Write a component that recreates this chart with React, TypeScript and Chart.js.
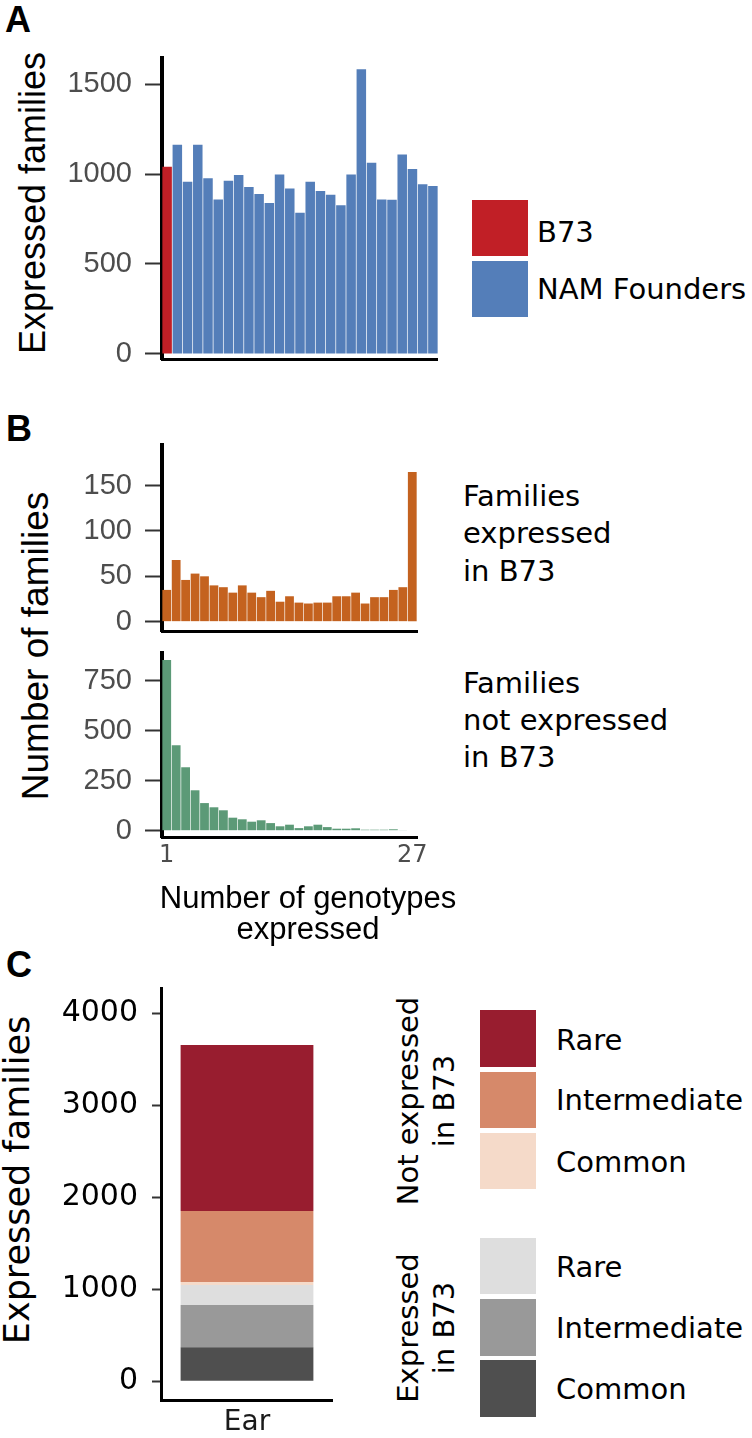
import React, { useEffect, useRef } from 'react';
import { Chart, registerables } from 'chart.js';

Chart.register(...registerables);

// ---------- Panel A data ----------
const genotypeLabels = ['B73', 'NAM 1', 'NAM 2', 'NAM 3', 'NAM 4', 'NAM 5', 'NAM 6', 'NAM 7', 'NAM 8', 'NAM 9', 'NAM 10', 'NAM 11', 'NAM 12', 'NAM 13', 'NAM 14', 'NAM 15', 'NAM 16', 'NAM 17', 'NAM 18', 'NAM 19', 'NAM 20', 'NAM 21', 'NAM 22', 'NAM 23', 'NAM 24', 'NAM 25', 'NAM 26'];
const b73Expressed = [1041];
const namFounderExpressed = [1163, 957, 1163, 976, 859, 963, 994, 928, 889, 839, 998, 919, 785, 957, 906, 885, 826, 998, 1583, 1063, 859, 857, 1109, 1028, 943, 933];
const yTicksA = [0, 500, 1000, 1500];

// ---------- Panel B data ----------
const genotypeCounts = ['1', '2', '3', '4', '5', '6', '7', '8', '9', '10', '11', '12', '13', '14', '15', '16', '17', '18', '19', '20', '21', '22', '23', '24', '25', '26', '27'];
const expressedInB73 = [35, 68, 46, 53, 50, 40, 38, 32, 40, 32, 27, 34, 22, 28, 21, 20, 21, 21, 28, 28, 32, 20, 27, 27, 35, 38, 165];
const notExpressedInB73 = [853, 427, 317, 202, 138, 117, 102, 65, 57, 45, 52, 38, 22, 30, 13, 22, 30, 18, 10, 10, 12, 5, 5, 5, 7, 2, 0];
const yTicksBTop = [0, 50, 100, 150];
const yTicksBBottom = [0, 250, 500, 750];
const xTickLabelsB = ['1', '27'];

// ---------- Panel C data ----------
const tissues = ['Ear'];
const expCommon = [370];
const expIntermediate = [459];
const expRare = [218];
const notExpCommon = [32];
const notExpIntermediate = [772];
const notExpRare = [1804];
const yTicksC = [0, 1000, 2000, 3000, 4000];

// ---------- colours ----------
const RED = '#c11f26';
const BLUE = '#547eb9';
const ORANGE = '#c4621f';
const GREEN = '#5c9a77';
const C_NOT_RARE = '#981d2f';
const C_NOT_INTER = '#d6896a';
const C_NOT_COMMON = '#f5dac9';
const C_EXP_RARE = '#dedede';
const C_EXP_INTER = '#999999';
const C_EXP_COMMON = '#4f4f4f';

const LIB = "'Liberation Sans', Arial, sans-serif";
const DJV = "'DejaVu Sans', sans-serif";

function yAxis(o: { min: number; max: number; ticks: number[]; plotLeft: number; tickLength: number; pad: number; family: string; size: number; color: string; border: number }) {
  return {
    type: 'linear',
    stacked: true,
    min: o.min,
    max: o.max,
    afterBuildTicks: (s: any) => {
      s.ticks = o.ticks.map((v) => ({ value: v }));
    },
    afterFit: (s: any) => {
      s.width = o.plotLeft;
      s.paddingTop = 0;
      s.paddingBottom = 0;
    },
    ticks: {
      autoSkip: false,
      padding: o.pad,
      color: o.color,
      font: { family: o.family, size: o.size },
      callback: (v: any) => String(v),
    },
    grid: { display: true, drawOnChartArea: false, drawTicks: true, tickLength: o.tickLength, tickWidth: 2, tickColor: '#333333' },
    border: { display: true, color: '#000000', width: o.border },
  };
}

function xAxis(o: { height: number; ticks?: any; border: number }) {
  return {
    type: 'category',
    stacked: true,
    offset: true,
    afterFit: (s: any) => {
      s.height = o.height;
      s.paddingLeft = 0;
      s.paddingRight = 0;
    },
    grid: { display: false, drawTicks: false },
    ticks: o.ticks || { display: false },
    border: { display: true, color: '#000000', width: o.border },
  };
}

function baseOptions(scales: any, bar: any, padRight = 0) {
  return {
    responsive: false,
    animation: false,
    events: [],
    layout: { padding: { left: 0, top: 0, bottom: 0, right: padRight }, autoPadding: false },
    plugins: { legend: { display: false }, tooltip: { enabled: false }, title: { display: false } },
    datasets: { bar },
    scales,
  };
}

const nullsFor = (n: number) => new Array(n).fill(null);

function configA() {
  return {
    type: 'bar',
    data: {
      labels: genotypeLabels,
      datasets: [
        { label: 'B73', data: [...b73Expressed, ...nullsFor(namFounderExpressed.length)], backgroundColor: RED },
        { label: 'NAM Founders', data: [...nullsFor(b73Expressed.length), ...namFounderExpressed], backgroundColor: BLUE },
      ],
    },
    options: baseOptions(
      {
        x: xAxis({ height: 27, border: 3 }),
        y: yAxis({ min: -28, max: 1656, ticks: yTicksA, plotLeft: 162, tickLength: 17, pad: 13, family: LIB, size: 29, color: '#4d4d4d', border: 4 }),
      },
      { barPercentage: 0.93, categoryPercentage: 1 }
    ),
  };
}

function configBTop() {
  return {
    type: 'bar',
    data: { labels: genotypeCounts, datasets: [{ label: 'Families expressed in B73', data: expressedInB73, backgroundColor: ORANGE }] },
    options: baseOptions(
      {
        x: xAxis({ height: 22, border: 3 }),
        y: yAxis({ min: -10.3, max: 197, ticks: yTicksBTop, plotLeft: 162, tickLength: 17, pad: 13, family: LIB, size: 29, color: '#4d4d4d', border: 4 }),
      },
      { barPercentage: 0.93, categoryPercentage: 1 },
      23
    ),
  };
}

function configBBottom() {
  return {
    type: 'bar',
    data: { labels: genotypeCounts, datasets: [{ label: 'Families not expressed in B73', data: notExpressedInB73, backgroundColor: GREEN }] },
    options: baseOptions(
      {
        x: xAxis({
          height: 54,
          border: 3,
          ticks: {
            display: true,
            autoSkip: false,
            maxRotation: 0,
            minRotation: 0,
            padding: 4,
            color: '#4d4d4d',
            font: { family: DJV, size: 24 },
            callback: (_v: any, i: number) => (xTickLabelsB.includes(genotypeCounts[i]) ? genotypeCounts[i] : ''),
          },
        }),
        y: yAxis({ min: -31.5, max: 898, ticks: yTicksBBottom, plotLeft: 162, tickLength: 17, pad: 13, family: LIB, size: 29, color: '#4d4d4d', border: 4 }),
      },
      { barPercentage: 0.93, categoryPercentage: 1 },
      23
    ),
  };
}

function configC() {
  return {
    type: 'bar',
    data: {
      labels: tissues,
      datasets: [
        { label: 'Expressed in B73 Common', data: expCommon, backgroundColor: C_EXP_COMMON },
        { label: 'Expressed in B73 Intermediate', data: expIntermediate, backgroundColor: C_EXP_INTER },
        { label: 'Expressed in B73 Rare', data: expRare, backgroundColor: C_EXP_RARE },
        { label: 'Not expressed in B73 Common', data: notExpCommon, backgroundColor: C_NOT_COMMON },
        { label: 'Not expressed in B73 Intermediate', data: notExpIntermediate, backgroundColor: C_NOT_INTER },
        { label: 'Not expressed in B73 Rare', data: notExpRare, backgroundColor: C_NOT_RARE },
      ],
    },
    options: baseOptions(
      {
        x: xAxis({
          height: 38,
          border: 3,
          ticks: { display: true, padding: 6, color: '#1a1a1a', font: { family: DJV, size: 28 } },
        }),
        y: yAxis({ min: -203, max: 4286, ticks: yTicksC, plotLeft: 161, tickLength: 9, pad: 14, family: DJV, size: 30, color: '#000000', border: 3 }),
      },
      { barPercentage: 0.772, categoryPercentage: 1 }
    ),
  };
}

function ChartBox({ top, width, height, make }: { top: number; width: number; height: number; make: () => any }) {
  const ref = useRef<HTMLCanvasElement | null>(null);
  useEffect(() => {
    const chart = new Chart(ref.current as HTMLCanvasElement, make());
    return () => chart.destroy();
  }, []);
  return <canvas ref={ref} width={width} height={height} style={{ position: 'absolute', left: 0, top, width, height }} />;
}

function Txt({ x, y, text, size, family, color = '#000', weight = 'normal', align = 'left', rotate = false }: any) {
  const tx = align === 'center' ? '-50%' : align === 'right' ? '-100%' : '0';
  const transform = rotate ? 'translate(-50%, -50%) rotate(-90deg)' : `translate(${tx}, -50%)`;
  return (
    <div
      style={{
        position: 'absolute',
        left: x,
        top: y,
        transform,
        fontFamily: family,
        fontSize: size,
        lineHeight: `${size}px`,
        fontWeight: weight,
        color,
        whiteSpace: 'nowrap',
      }}
    >
      {text}
    </div>
  );
}

function Swatch({ x, y, w, h, color }: any) {
  return <div style={{ position: 'absolute', left: x, top: y, width: w, height: h, background: color }} />;
}

export default function App() {
  return (
    <div style={{ position: 'absolute', left: 0, top: 0, width: 752, height: 1438, background: '#fff', overflow: 'hidden' }}>
      {/* Panel A */}
      <Txt x={5} y={20} text="A" size={36} family={LIB} weight="bold" />
      <Txt x={33} y={203} text="Expressed families" size={36} family={LIB} rotate />
      <ChartBox top={56} width={438} height={330} make={configA} />
      <Swatch x={472} y={200} w={56} h={56} color={RED} />
      <Swatch x={472} y={261} w={56} h={56} color={BLUE} />
      <Txt x={537} y={232} text="B73" size={29} family={DJV} />
      <Txt x={537} y={289} text="NAM Founders" size={29} family={DJV} />

      {/* Panel B */}
      <Txt x={6} y={429} text="B" size={36} family={LIB} weight="bold" />
      <Txt x={35} y={646} text="Number of families" size={37} family={LIB} rotate />
      <ChartBox top={443} width={440} height={210} make={configBTop} />
      <ChartBox top={651} width={440} height={240} make={configBBottom} />
      <Txt x={463} y={496} text="Families" size={29} family={DJV} />
      <Txt x={463} y={533} text="expressed" size={29} family={DJV} />
      <Txt x={463} y={570.5} text="in B73" size={29} family={DJV} />
      <Txt x={463} y={683} text="Families" size={29} family={DJV} />
      <Txt x={463} y={720} text="not expressed" size={29} family={DJV} />
      <Txt x={463} y={757} text="in B73" size={29} family={DJV} />
      <Txt x={308} y={896.5} text="Number of genotypes" size={31} family={LIB} align="center" />
      <Txt x={308} y={928} text="expressed" size={31} family={LIB} align="center" />

      {/* Panel C */}
      <Txt x={6} y={965} text="C" size={36} family={LIB} weight="bold" />
      <Txt x={17} y={1180} text="Expressed families" size={35} family={DJV} rotate />
      <ChartBox top={987} width={333} height={451} make={configC} />
      <Txt x={407.5} y={1101} text="Not expressed" size={29} family={DJV} rotate />
      <Txt x={444} y={1101} text="in B73" size={29} family={DJV} rotate />
      <Txt x={407.5} y={1328} text="Expressed" size={29} family={DJV} rotate />
      <Txt x={444} y={1328} text="in B73" size={29} family={DJV} rotate />
      <Swatch x={479.5} y={1010} w={56} h={56.5} color={C_NOT_RARE} />
      <Swatch x={479.5} y={1071.5} w={56} h={56.5} color={C_NOT_INTER} />
      <Swatch x={479.5} y={1132.5} w={56} h={56.5} color={C_NOT_COMMON} />
      <Swatch x={479.5} y={1237.5} w={56} h={56.5} color={C_EXP_RARE} />
      <Swatch x={479.5} y={1299} w={56} h={56.5} color={C_EXP_INTER} />
      <Swatch x={479.5} y={1360} w={56} h={56.5} color={C_EXP_COMMON} />
      <Txt x={556} y={1040} text="Rare" size={29} family={DJV} />
      <Txt x={556} y={1100} text="Intermediate" size={29} family={DJV} />
      <Txt x={556} y={1162} text="Common" size={29} family={DJV} />
      <Txt x={556} y={1266.5} text="Rare" size={29} family={DJV} />
      <Txt x={556} y={1328} text="Intermediate" size={29} family={DJV} />
      <Txt x={556} y={1388.5} text="Common" size={29} family={DJV} />
    </div>
  );
}
